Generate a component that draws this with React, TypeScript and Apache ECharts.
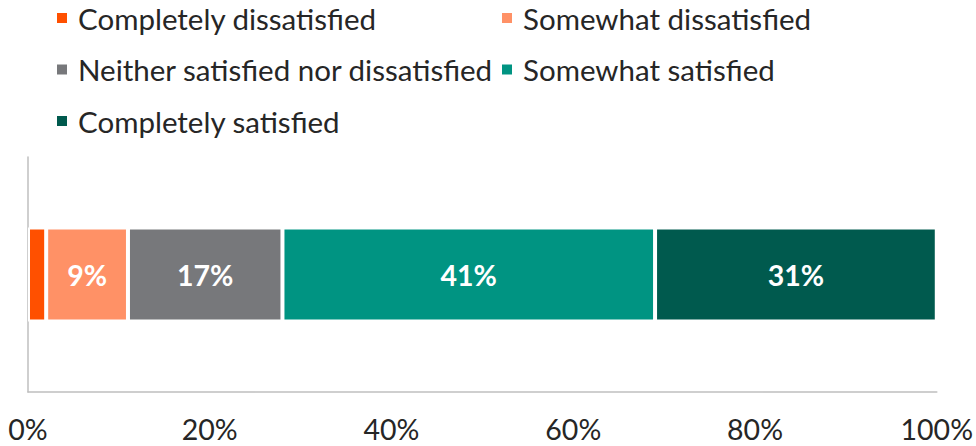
import React, { useEffect, useRef } from "react";
import * as echarts from "echarts";

// Share of respondents by satisfaction level (percent)
const categories = ["All respondents"];
const seriesNames = [
  "Completely dissatisfied",
  "Somewhat dissatisfied",
  "Neither satisfied nor dissatisfied",
  "Somewhat satisfied",
  "Completely satisfied",
];
const seriesValues = [2, 9, 17, 41, 31];
const showValueLabel = [false, true, true, true, true];
const seriesColors = ["#FF5000", "#FF9166", "#77787B", "#009482", "#005A4E"];
const xTicks = [0, 20, 40, 60, 80, 100];

const FONT = "Lato, 'Noto Sans', sans-serif";

export default function App() {
  const ref = useRef<HTMLDivElement>(null);

  useEffect(() => {
    document.body.style.margin = "0";
    if (!ref.current) return;
    const chart = echarts.init(ref.current, undefined, { renderer: "svg" });

    const legendText = {
      fontFamily: FONT,
      fontSize: 29.5,
      color: "#262626",
      lineHeight: 30,
      padding: [0, 0, 0, 5],
    };

    chart.setOption({
      animation: false,
      textStyle: { fontFamily: FONT },
      legend: [
        {
          orient: "vertical",
          left: 50,
          top: -2,
          icon: "rect",
          itemWidth: 12,
          itemHeight: 12,
          itemGap: 21.5,
          textStyle: legendText,
          data: [seriesNames[0], seriesNames[2], seriesNames[4]],
          selectedMode: false,
        },
        {
          orient: "vertical",
          left: 495,
          top: -2,
          icon: "rect",
          itemWidth: 12,
          itemHeight: 12,
          itemGap: 21.5,
          textStyle: legendText,
          data: [seriesNames[1], seriesNames[3]],
          selectedMode: false,
        },
      ],
      grid: { left: 28, right: 38, top: 157, bottom: 54, containLabel: false },
      xAxis: {
        type: "value",
        min: xTicks[0],
        max: xTicks[xTicks.length - 1],
        interval: 20,
        axisLine: { show: true, lineStyle: { color: "#BFBFBF", width: 1.5 } },
        axisTick: { show: false },
        splitLine: { show: false },
        axisLabel: {
          formatter: "{value}%",
          fontFamily: FONT,
          fontSize: 28.5,
          lineHeight: 24,
          color: "#262626",
          margin: 25,
        },
      },
      yAxis: {
        type: "category",
        data: categories,
        axisLine: { show: true, lineStyle: { color: "#BFBFBF", width: 1.5 } },
        axisTick: { show: false },
        axisLabel: { show: false },
      },
      series: seriesNames.map((name, i) => ({
        name,
        type: "bar",
        stack: "total",
        barWidth: 94,
        data: [seriesValues[i]],
        itemStyle: {
          color: seriesColors[i],
          borderColor: "#FFFFFF",
          borderWidth: 2,
        },
        label: {
          show: showValueLabel[i],
          position: "inside",
          formatter: "{c}%",
          fontFamily: FONT,
          fontSize: 28.5,
          fontWeight: "bold",
          color: "#FFFFFF",
        },
      })),
    });

    return () => chart.dispose();
  }, []);

  return <div ref={ref} style={{ width: 976, height: 446 }} />;
}
